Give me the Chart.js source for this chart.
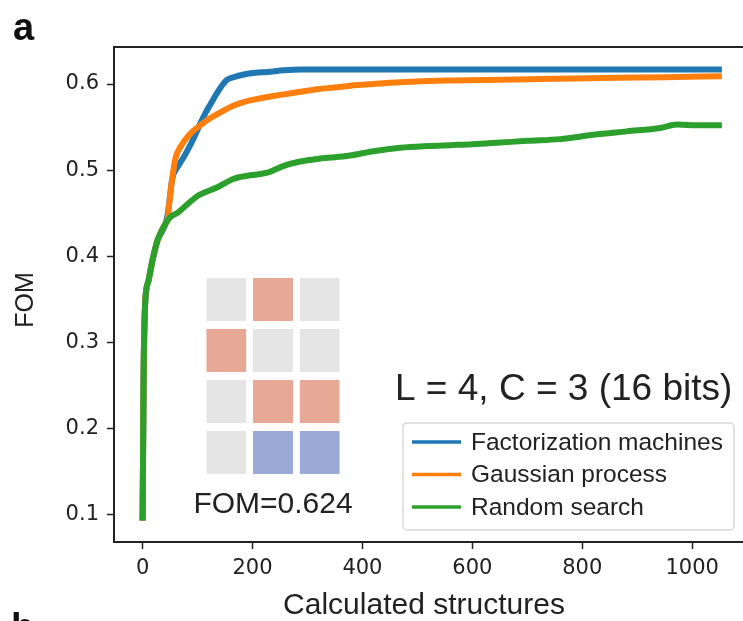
<!DOCTYPE html>
<html>
<head>
<meta charset="utf-8">
<script src="https://cdn.jsdelivr.net/npm/chart.js@4.4.1/dist/chart.umd.min.js"></script>
<style>
  html, body { margin: 0; padding: 0; background: #fff; overflow: hidden; }
  #wrap { position: relative; width: 760px; height: 621px; }
  #main { position: absolute; left: 0; top: 0; width: 760px; height: 621px; }
  #inset { position: absolute; left: 203px; top: 274px; width: 140px; height: 204px; }
</style>
</head>
<body>
<div id="wrap">
  <div id="main"><canvas id="fomChart"></canvas></div>
  <div id="inset"><canvas id="insetChart"></canvas></div>
</div>
<script>
// data
const seriesNames = ['Factorization machines', 'Gaussian process', 'Random search'];
const seriesColors = ['#1f77b4', '#ff7f0e', '#2ca02c'];

const fmX = [0, 1, 2, 3, 5, 11, 18, 27, 42, 46, 50, 54, 63, 72, 81, 93, 105, 115, 124, 133, 142, 154, 166, 184, 205, 227, 257, 287, 350, 450, 600, 800, 1054];
const fmY = [0.093, 0.18, 0.27, 0.31, 0.349, 0.372, 0.395, 0.418, 0.438, 0.45, 0.47, 0.49, 0.503, 0.512, 0.522, 0.537, 0.554, 0.567, 0.577, 0.587, 0.596, 0.605, 0.608, 0.611, 0.613, 0.614, 0.616, 0.617, 0.617, 0.617, 0.617, 0.617, 0.617];

const gpX = [0, 1, 2, 3, 5, 11, 18, 27, 42, 45, 50, 55, 60, 70, 81, 93, 105, 120, 136, 150, 166, 184, 196, 227, 257, 287, 318, 350, 378, 420, 469, 550, 651, 750, 833, 950, 1054];
const gpY = [0.093, 0.18, 0.27, 0.31, 0.349, 0.372, 0.395, 0.418, 0.438, 0.441, 0.47, 0.495, 0.514, 0.528, 0.538, 0.546, 0.552, 0.559, 0.565, 0.570, 0.575, 0.579, 0.581, 0.585, 0.588, 0.591, 0.594, 0.596, 0.598, 0.600, 0.602, 0.604, 0.605, 0.606, 0.607, 0.608, 0.609];

const rsX = [0, 1, 2, 3, 5, 11, 18, 27, 35, 42, 50, 65, 81, 100, 136, 166, 196, 227, 257, 287, 318, 350, 378, 420, 469, 520, 560, 600, 651, 700, 760, 820, 881, 942, 972, 1010, 1054];
const rsY = [0.093, 0.18, 0.27, 0.31, 0.349, 0.372, 0.395, 0.418, 0.43, 0.438, 0.445, 0.451, 0.46, 0.47, 0.48, 0.49, 0.494, 0.497, 0.505, 0.51, 0.513, 0.515, 0.517, 0.522, 0.526, 0.528, 0.529, 0.530, 0.532, 0.534, 0.536, 0.541, 0.545, 0.549, 0.553, 0.552, 0.552];

const xTicks = [0, 200, 400, 600, 800, 1000];
const yTicks = [0.1, 0.2, 0.3, 0.4, 0.5, 0.6];

// inset structure, top row first: 0 = empty, 1 = red, -1 = blue
const insetCells = [
  [0, 1, 0],
  [1, 0, 0],
  [0, 1, 1],
  [0, -1, -1]
];
const cellColors = { '0': '#e5e5e5', '1': '#e7a896', '-1': '#9aa9d5' };

const sansFont = "'Liberation Sans', Arial, sans-serif";
const tickFont = "'DejaVu Sans', sans-serif";

const toPoints = (xs, ys) => xs.map((x, i) => ({ x: x, y: ys[i] }));

// top/right spines
const framePlugin = {
  id: 'frame',
  afterDraw(chart) {
    const { ctx, chartArea: a } = chart;
    ctx.save();
    ctx.strokeStyle = '#222';
    ctx.lineWidth = 2;
    ctx.beginPath();
    ctx.moveTo(a.left, a.top);
    ctx.lineTo(a.right, a.top);
    ctx.lineTo(a.right, a.bottom);
    ctx.stroke();
    ctx.restore();
  }
};

// legend box in the lower right of the axes
const boxLegend = {
  id: 'boxLegend',
  afterDraw(chart) {
    const ctx = chart.ctx;
    ctx.save();
    ctx.fillStyle = 'rgba(255,255,255,0.85)';
    ctx.strokeStyle = '#d8d8d8';
    ctx.lineWidth = 1.5;
    ctx.beginPath();
    ctx.roundRect(403, 423, 331, 107, 4);
    ctx.fill();
    ctx.stroke();
    ctx.font = '24.5px ' + sansFont;
    ctx.textBaseline = 'middle';
    chart.data.datasets.forEach((ds, i) => {
      const y = 442 + i * 32.5;
      ctx.strokeStyle = ds.borderColor;
      ctx.lineWidth = 3.5;
      ctx.beginPath();
      ctx.moveTo(412, y);
      ctx.lineTo(461, y);
      ctx.stroke();
      ctx.fillStyle = '#222';
      ctx.fillText(ds.label, 471, y + 1);
    });
    ctx.restore();
  }
};

// panel letters, axis titles and annotations
const textPlugin = {
  id: 'texts',
  afterDraw(chart) {
    const ctx = chart.ctx;
    ctx.save();
    ctx.fillStyle = '#111';
    ctx.font = 'bold 38px ' + sansFont;
    ctx.textAlign = 'left';
    ctx.textBaseline = 'alphabetic';
    ctx.fillText('a', 13, 40);
    ctx.fillText('b', 11, 640);

    ctx.fillStyle = '#222';
    ctx.font = '37px ' + sansFont;
    ctx.fillText('L = 4, C = 3 (16 bits)', 395, 400);

    ctx.textAlign = 'center';
    ctx.font = '30px ' + sansFont;
    ctx.fillText('FOM=0.624', 273, 513);
    ctx.fillText('Calculated structures', 424, 614);

    ctx.translate(26, 300);
    ctx.rotate(-Math.PI / 2);
    ctx.font = '25px ' + sansFont;
    ctx.textBaseline = 'middle';
    ctx.fillText('FOM', 0, 0);
    ctx.restore();
  }
};

const axisStyle = {
  grid: { drawOnChartArea: false, drawTicks: true, tickLength: 7, tickColor: '#222', tickWidth: 1.5 },
  border: { display: true, color: '#222', width: 2 }
};

new Chart(document.getElementById('fomChart'), {
  type: 'line',
  data: {
    datasets: [
      { label: seriesNames[0], data: toPoints(fmX, fmY), borderColor: seriesColors[0], order: 3 },
      { label: seriesNames[1], data: toPoints(gpX, gpY), borderColor: seriesColors[1], order: 2 },
      { label: seriesNames[2], data: toPoints(rsX, rsY), borderColor: seriesColors[2], order: 1 }
    ]
  },
  options: {
    responsive: true,
    maintainAspectRatio: false,
    animation: false,
    events: [],
    layout: { padding: { left: 0, top: 47, right: 9, bottom: 0 } },
    elements: {
      line: { borderWidth: 6, cubicInterpolationMode: 'monotone', borderCapStyle: 'butt' },
      point: { radius: 0 }
    },
    scales: {
      x: {
        type: 'linear',
        min: -52,
        max: 1107,
        afterBuildTicks: s => { s.ticks = xTicks.map(v => ({ value: v })); },
        afterFit: s => { s.height = 79; },
        ...axisStyle,
        ticks: { color: '#222', font: { family: tickFont, size: 21 }, padding: 7, maxRotation: 0, autoSkip: false, callback: v => String(v) }
      },
      y: {
        type: 'linear',
        min: 0.068,
        max: 0.643,
        afterBuildTicks: s => { s.ticks = yTicks.map(v => ({ value: v })); },
        afterFit: s => { s.width = 114; },
        ...axisStyle,
        ticks: { color: '#222', font: { family: tickFont, size: 21 }, padding: 8, callback: v => v.toFixed(1) }
      }
    },
    plugins: {
      legend: { display: false },
      tooltip: { enabled: false }
    }
  },
  plugins: [framePlugin, boxLegend, textPlugin]
});

// inset lattice drawn as stacked bars, bottom row first
new Chart(document.getElementById('insetChart'), {
  type: 'bar',
  data: {
    labels: ['c1', 'c2', 'c3'],
    datasets: insetCells.slice().reverse().map(row => ({
      data: row.map(() => 1),
      backgroundColor: row.map(c => cellColors[String(c)]),
      borderColor: '#fff',
      borderWidth: { top: 4, bottom: 4, left: 0, right: 0 },
      borderSkipped: false,
      barPercentage: 0.86,
      categoryPercentage: 1
    }))
  },
  options: {
    responsive: true,
    maintainAspectRatio: false,
    animation: false,
    events: [],
    layout: { padding: 0 },
    scales: {
      x: { display: false, stacked: true },
      y: { display: false, stacked: true, min: 0, max: 4 }
    },
    plugins: { legend: { display: false }, tooltip: { enabled: false } }
  }
});
</script>
</body>
</html>
